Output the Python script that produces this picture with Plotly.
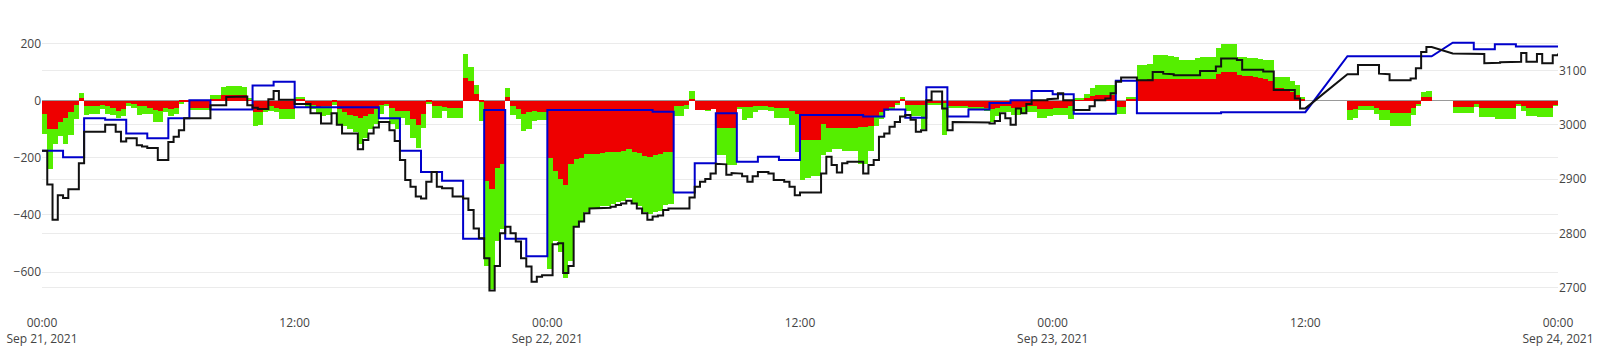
import pandas as pd
import plotly.graph_objects as go

N = None
# ---- data: 15-minute slots, Sep 21 00:00 -> Sep 24 00:00 ----
red = [
 -45,-100,-100,-75, -60,-40,-15,10, -18,-18,-18,-15, -18,-25,-35,-30,
 -8,-10,-20,-20, -25,-33,-35,-25, -28,-25,-5,-3, -28,-28,-28,-28,
 8,8,20,20, 20,20,20,3, -38,-40,-25,-20, -25,-30,-30,-28,
 5,5,-12,-15, -21,-20,-20,-5, -30,-40,-50,-55, -62,-55,-45,-30,
 -15,-10,-25,-35, -35,-35,-65,-85, -45,-5,-20,-20, -22,-25,-25,-25,
 80,70,25,-5, -280,-310,-235,-220, 15,-20,-30,-45, -40,-35,-38,-38,
 -200,-245,-275,-295, -220,-205,-200,-185, -185,-185,-182,-180, -178,-178,-175,-168,
 -180,-183,-195,-196, -190,-188,-180,-178, -20,-20,-15,5, -33,-33,-33,-30,
 -95,-97,-97,-95, -22,-22,-22,-20, -20,-20,-22,-25, -25,-25,-35,-45,
 -137,-137,-137,-137, -80,-97,-97,-97, -97,-97,-97,-92, -92,-90,-55,-38,
 -28,-25,-10,5, -15,-15,-15,-15, -8,-8,-8,-8, -20,-20,-20,-20,
 -22,-22,-22,-25, -30,-25,-18,-18, -25,-25,-22,-20, -20,-28,-30,-28,
 -25,-25,-25,-20, 3,3,10,18, 20,20,20,20, -22,-22,5,5,
 72,72,75,75, 75,75,75,75, 75,75,75,75, 78,78,78,95,
 102,102,100,90, 88,88,85,80, 75,70,45,45, 43,30,20,8,
 N,N,N,N, N,N,N,N, -33,-30,-19,-19, -19,-25,-33,-33,
 -44,-44,-44,-44, -27,-10,14,14, N,N,N,N, -21,-21,-21,-21,
 -12,-27,-27,-27, -27,-27,-27,-27, -10,-20,-27,-27, -27,-27,-27,-15,
]
green = [
 -70,-140,-50,-50, -90,-80,-50,18, -32,-30,-30,-15, -27,-25,-25,-25,
 -12,-15,-30,-25, -20,-40,-40,-15, -27,-20,-5,0, -3,-2,-2,-2,
 12,12,30,31, 31,31,30,8, -51,-45,-15,-15, -15,-35,-35,-37,
 9,9,-13,-15, -23,-35,-30,-10, -50,-50,-50,-55, -88,-75,-55,-50,
 -30,-10,-55,-65, -25,-50,-65,-80, -50,-5,-40,-40, -13,-37,-37,-35,
 85,50,30,-65, -300,-350,-255,-230, 30,-30,-35,-60, -60,-35,-30,-30,
 -390,-245,-255,-325, -340,-235,-220,-205, -193,-193,-186,-188, -182,-177,-175,-172,
 -182,-187,-195,-199, -200,-197,-185,-182, -35,-35,-15,30, 0,0,-2,0,
 -95,-93,-128,-130, -8,-46,-40,-20, -13,-13,-13,-35, -37,-37,-50,-135,
 -140,-133,-128,-128, -110,-83,-73,-73, -78,-78,-78,-128, -128,-85,-35,-27,
 -7,-5,-5,10, -20,-40,-40,-85, -7,-7,-7,-112, -5,-2,-2,-2,
 -8,-8,-8,-10, -45,-30,-22,-22, -25,-25,-23,-18, -18,-32,-32,-27,
 -25,-25,-25,-45, 5,5,15,27, 35,35,35,35, -23,-23,9,9,
 53,53,55,85, 85,85,83,80, 68,68,68,75, 77,77,77,90,
 98,98,98,62, 64,62,65,65, 68,73,40,40, 42,40,35,7,
 N,N,N,N, N,N,N,N, -34,-30,-14,-14, -14,-20,-34,-34,
 -46,-46,-46,-46, -23,-8,17,21, N,N,N,N, -23,-23,-23,-23,
 -11,-29,-29,-29, -38,-38,-38,-38, -8,-15,-27,-27, -31,-31,-31,-3,
]
price = [
 2952,2890,2825,2870, 2865,2881,2881,2929, 2987,2987,2987,2987, 3000,3000,2987,2969,
 2975,2975,2962,2960, 2957,2957,2935,2935, 2968,2978,2990,3012, 3012,3012,3012,3012,
 3036,3036,3036,3051, 3052,3052,3052,3036, 3031,3029,3029,3047, 3062,3046,3046,3046,
 3038,3038,3038,3021, 3021,3002,3002,3021, 3000,2984,2984,2984, 2955,2972,2984,2995,
 3005,3005,2990,2970, 2935,2898,2886,2868, 2864,2895,2913,2886, 2883,2883,2868,2868,
 2864,2843,2809,2791, 2754,2695,2740,2800, 2812,2800,2785,2754, 2739,2711,2720,2723,
 2723,2780,2782,2727, 2740,2812,2822,2837, 2846,2846,2846,2847, 2849,2852,2855,2860,
 2855,2846,2837,2825, 2831,2833,2843,2846, 2846,2846,2846,2866, 2886,2895,2900,2910,
 2928,2927,2908,2911, 2910,2905,2895,2905, 2913,2913,2910,2898, 2898,2895,2886,2870,
 2875,2875,2875,2875, 2910,2941,2926,2912, 2929,2932,2932,2932, 2910,2926,2935,2978,
 2984,2996,3005,3015, 3018,3009,2987,2990, 3045,3061,3061,3030, 2990,3005,3004,3004,
 3004,3004,3004,3004, 3002,3007,3021,3012, 3000,3030,3021,3038, 3045,3045,3045,3047,
 3048,3058,3045,3045, 3027,3027,3027,3034, 3045,3045,3048,3058, 3079,3087,3088,3087,
 3082,3082,3082,3097, 3097,3094,3093,3091, 3091,3091,3091,3091, 3099,3099,3099,3107,
 3122,3122,3122,3119, 3101,3101,3101,3101, 3098,3098,3064,3064, 3064,3064,3048,3030,
 N,N,N,N, N,N,N,N, 3093,3093,3110,3110, 3110,3110,3094,3093,
 3082,3082,3082,3082, 3085,3104,3134,3143, N,N,N,N, 3131,3130,3130,3130,
 3130,3130,3113,3114, 3114,3115,3115,3116, 3116,3132,3116,3116, 3130,3113,3113,3128,
 3131,
]
# hourly reference level (blue)
level = [
 2952,2940,3012,3009,2984,2975,3012,3045,3028,3028,3072,3079,
 3032,3032,3032,3032,3012,2952,2913,2897,2790,3027,2790,2758,
 3027,3027,3027,3027,3027,3024,2875,2929,3021,2932,2941,2935,
 3018,3018,3018,3015,3028,3013,3069,3015,3028,3040,3045,3062,
 3056,3020,3020,3081,3021,3021,3021,3021,3023,3023,3023,3023,
 N,N,3126,3126,3126,3126,N,3151,3139,3148,3144,3144,
]

slot_times = pd.date_range("2021-09-21 00:00", periods=289, freq="15min")
bar_times = slot_times[:-1]
hour_times = pd.date_range("2021-09-21 00:00", periods=73, freq="h")


def step_path(times, vals):
    """Step (hold-then-jump) path; missing values are bridged with a straight line."""
    xs, ys = [], []
    for i, v in enumerate(vals):
        if v is None:
            continue
        xs.append(times[i]); ys.append(v)
        if i + 1 < len(times) and (i + 1 < len(vals) or len(times) > len(vals)):
            xs.append(times[i + 1]); ys.append(v)
    return xs, ys


fig = go.Figure()
fig.add_trace(go.Bar(x=bar_times, y=red, width=900000, offset=0,
                     marker=dict(color="#EE0000", line=dict(width=0)), yaxis="y"))
fig.add_trace(go.Bar(x=bar_times, y=green, width=900000, offset=0,
                     marker=dict(color="#55EE00", line=dict(width=0)), yaxis="y"))

bx, by = step_path(hour_times, level)
fig.add_trace(go.Scatter(x=bx, y=by, mode="lines", yaxis="y2",
                         line=dict(color="#0000CC", width=2)))
px_, py_ = step_path(slot_times, price)
fig.add_trace(go.Scatter(x=px_, y=py_, mode="lines", yaxis="y2",
                         line=dict(color="#111111", width=2)))

fig.update_layout(
    width=1600, height=347,
    margin=dict(l=42, r=42, t=20, b=33),
    paper_bgcolor="white", plot_bgcolor="white",
    barmode="relative", bargap=0, showlegend=False,
    font=dict(family='"Open Sans", verdana, arial, sans-serif', size=12, color="#444"),
    xaxis=dict(range=["2021-09-21 00:00", "2021-09-24 00:00"], showgrid=False,
               dtick=12 * 3600 * 1000, tick0="2021-09-21", zeroline=False,
               automargin=False),
    yaxis=dict(range=[-747, 283], tickvals=[-600, -400, -200, 0, 200],
               gridcolor="#EBEBEB", zeroline=True, zerolinecolor="#999999", zerolinewidth=1,
               automargin=False),
    yaxis2=dict(range=[2651.6, 3192.7], overlaying="y", side="right", dtick=100,
                gridcolor="#EBEBEB", zeroline=False, showgrid=True, automargin=False),
)

fig.write_html("out.html")
